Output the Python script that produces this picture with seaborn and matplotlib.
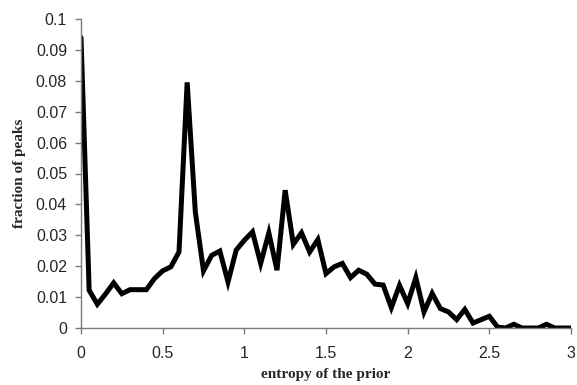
import matplotlib
matplotlib.use("Agg")
import matplotlib.pyplot as plt
import seaborn as sns
import numpy as np
import pandas as pd
from matplotlib.ticker import FuncFormatter, MultipleLocator

entropy = [0.00, 0.05, 0.10, 0.15, 0.20, 0.25, 0.30, 0.35, 0.40, 0.45,
           0.50, 0.55, 0.60, 0.65, 0.70, 0.75, 0.80, 0.85, 0.90, 0.95,
           1.00, 1.05, 1.10, 1.15, 1.20, 1.25, 1.30, 1.35, 1.40, 1.45,
           1.50, 1.55, 1.60, 1.65, 1.70, 1.75, 1.80, 1.85, 1.90, 1.95,
           2.00, 2.05, 2.10, 2.15, 2.20, 2.25, 2.30, 2.35, 2.40, 2.45,
           2.50, 2.55, 2.60, 2.65, 2.70, 2.75, 2.80, 2.85, 2.90, 2.95, 3.00]
fraction = [0.094, 0.0122, 0.0077, 0.011, 0.0146, 0.0111, 0.0124, 0.0124, 0.0124, 0.016,
            0.0185, 0.0198, 0.0246, 0.0795, 0.0375, 0.0185, 0.0235, 0.0249, 0.0149, 0.0252,
            0.0284, 0.0311, 0.0209, 0.0308, 0.0187, 0.0446, 0.0271, 0.0308, 0.0246, 0.0286,
            0.0176, 0.0198, 0.0209, 0.0163, 0.0187, 0.0174, 0.0142, 0.0139, 0.0066, 0.0138,
            0.0079, 0.0163, 0.0052, 0.0112, 0.0063, 0.0052, 0.0027, 0.006, 0.0016, 0.0027,
            0.0038, 0.0003, 0.0, 0.0012, 0.0, 0.0, 0.0, 0.0012, 0.0, 0.0, 0.0]

df = pd.DataFrame({"entropy": entropy, "fraction": fraction})

sns.set_style("white")
fig = plt.figure(figsize=(5.77, 3.85), dpi=100)
ax = fig.add_axes([81/577, 1 - 328/385, 490/577, 309/385])

sns.lineplot(data=df, x="entropy", y="fraction", ax=ax, color="black",
             linewidth=3.6, solid_joinstyle="miter")

ax.set_xlim(0, 3)
ax.set_ylim(0, 0.1)
ax.xaxis.set_major_locator(MultipleLocator(0.5))
ax.yaxis.set_major_locator(MultipleLocator(0.01))

def fmt(v, pos):
    s = f"{v:.2f}".rstrip("0").rstrip(".")
    return s

ax.xaxis.set_major_formatter(FuncFormatter(fmt))
ax.yaxis.set_major_formatter(FuncFormatter(fmt))

for side in ["top", "right"]:
    ax.spines[side].set_visible(False)
for side in ["left", "bottom"]:
    ax.spines[side].set_color("#7a7a7a")
    ax.spines[side].set_linewidth(1.0)

ax.tick_params(axis="both", which="major", direction="out", length=4, width=1.0,
               color="#7a7a7a", labelsize=11.5, bottom=True, left=True)
ax.tick_params(axis="x", pad=9)
ax.tick_params(axis="y", pad=6)
for lbl in ax.get_xticklabels() + ax.get_yticklabels():
    lbl.set_family("Liberation Sans")

ax.set_xlabel("entropy of the prior", family="Liberation Serif", fontweight="bold",
              fontsize=11, labelpad=5)
ax.set_ylabel("fraction of peaks", family="Liberation Serif", fontweight="bold",
              fontsize=11, labelpad=7)
ax.grid(False)

fig.savefig("out.png", dpi=100)
